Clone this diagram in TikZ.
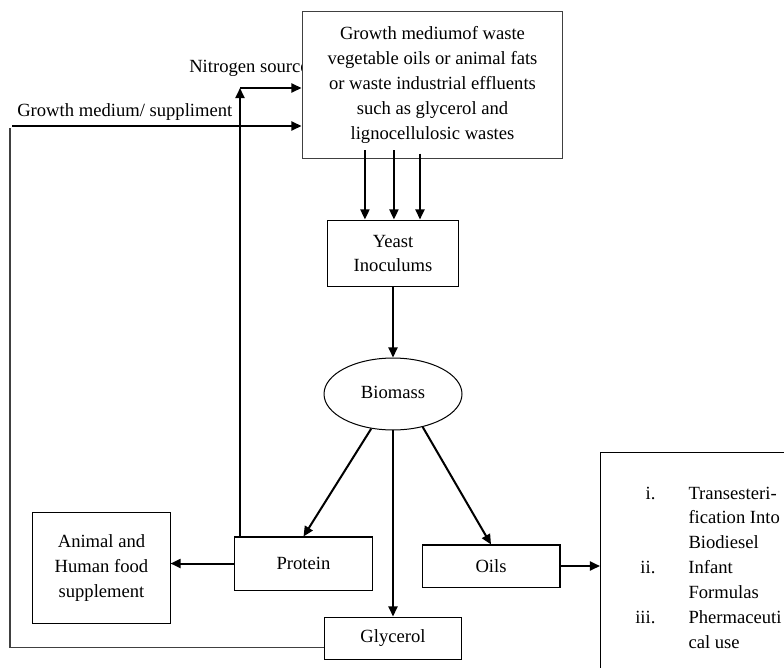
\documentclass[tikz,border=0pt]{standalone}
\usepackage{fontspec}
\setmainfont{Liberation Serif}
\usetikzlibrary{arrows.meta,shapes.geometric}

\begin{document}
\begin{tikzpicture}[x=0.645pt,y=-0.645pt,
    font=\fontsize{12pt}{16.1pt}\selectfont,
    >={Triangle[length=6.5pt,width=5.8pt]},
    box/.style={draw,fill=white,line width=0.65pt,align=center,inner sep=1pt},
    flow/.style={->,line width=1.3pt},
    back/.style={line width=0.65pt,draw=black!75}]
    \useasboundingbox (0,0) rectangle (784,667);
    \clip (0,0) rectangle (784,667);
    % feeds into the medium
    \node[anchor=west,inner sep=0pt] (nlabel) at (189,68) {Nitrogen source};
    \node[anchor=west,inner sep=0pt] (glabel) at (17,112) {Growth medium/ suppliment};
    \coordinate (nc) at (240,88);
    \coordinate (gc) at (12,126);
    \coordinate (fb) at (10,128);
    % boxes
    \node[box,draw=black!75,minimum width=168.3pt,minimum height=94.2pt] (medium) at (432.5,85) {Growth mediumof waste\\vegetable oils or animal fats\\or waste industrial effluents\\such as glycerol and\\lignocellulosic wastes};
    \node[box,minimum width=85.1pt,minimum height=43.2pt] (yeast) at (393,253.5) {Yeast\\Inoculums};
    \node[draw,ellipse,line width=0.65pt,inner sep=0pt,minimum width=89pt,minimum height=46.4pt] (biomass) at (393,394) {\raisebox{2pt}{Biomass}};
    \node[box,minimum width=88.4pt,minimum height=34.2pt] (protein) at (303.5,563.5) {Protein};
    \node[box,minimum width=88.4pt,minimum height=71pt] (animal) at (101.5,568) {Animal and\\Human food\\supplement};
    \node[box,minimum width=88.4pt,minimum height=27.7pt] (glycerol) at (393,638.5) {Glycerol};
    \node[box,minimum width=89pt,minimum height=27.1pt] (oils) at (491,566) {Oils};
    \node[box,anchor=north west,minimum width=129pt,minimum height=153.5pt] (uses) at (600,452) {};
    \node[anchor=base west,inner sep=0pt] (list) at (635,499) {\begin{tabular}[t]{@{}r@{\hspace{21.3pt}}l@{}}
        i. & Transesteri-\\
           & fication Into\\
           & Biodiesel\\
        ii. & Infant\\
           & Formulas\\
        iii. & Phermaceuti\\
           & cal use
      \end{tabular}};
    % connectors
    \coordinate (mb) at (yeast.north |- medium.south);
    \foreach \dx/\dy in {-18.1/5.2,0.6/5.2,17.4/3.2}
      \draw[flow] ([xshift=\dx pt,yshift=\dy pt]mb) -- ([xshift=\dx pt]yeast.north);
    \draw[flow] (protein.north -| nc) -- (nc);
    \draw[flow] (nc) -- (nc -| medium.west);
    \draw[flow] (gc) -- (gc -| medium.west);
    \draw[back] (fb) |- ([yshift=-6.1pt]glycerol.west);
    \draw[flow] (yeast) -- (biomass);
    \draw[flow] (biomass) -- (protein.north);
    \draw[flow] (biomass) -- (glycerol);
    \draw[flow] (biomass.-48) -- (oils.north);
    \draw[flow] (protein.west) -- (protein.west -| animal.east);
    \draw[flow] (oils.east) -- (oils.east -| uses.west);
  \end{tikzpicture}
\end{document}
